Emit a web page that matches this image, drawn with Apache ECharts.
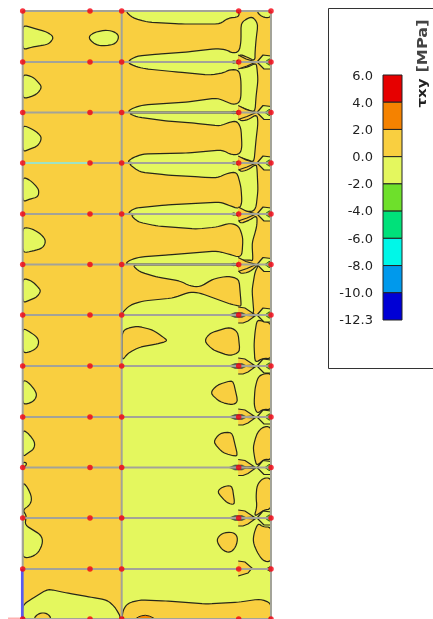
<!DOCTYPE html>
<html><head><meta charset="utf-8">
<style>html,body{margin:0;padding:0;background:#fff}#c{width:433px;height:619px}</style>
<script src="https://cdn.jsdelivr.net/npm/echarts@6/dist/echarts.min.js"></script>
</head><body><div id="c"></div>
<script>
// Model grid
const nodeX = [22.7, 90, 121.7, 238.7, 271];
const floorY = [11, 62, 112.5, 163, 214, 264.5, 315, 366, 417, 467.5, 518, 569, 619];
const wallX = [22.7, 121.7, 271];

// Legend
const legendLabels = ['6.0','4.0','2.0','0.0','-2.0','-4.0','-6.0','-8.0','-10.0','-12.3'];
const legendColors = ['#E60000','#F58200','#F9CF40','#E4F75E','#6EE02B','#00E17A','#00F7E8','#0099EC','#0000D5'];

// Contour outlines, 0..2 MPa background is the panel; these are the -2..0 MPa bands
const leftBlobs = [
 [[22.7,25],[33,28],[47,32],[54,37],[50,43],[45,45],[32,47],[22.7,50]],
 [[88,37],[95,32],[107,30],[115,32],[119,36],[117,42],[112,45],[100,46],[93,43]],
 [[22.7,74],[33,77],[38,82],[42,87],[38,93],[33,96],[22.7,99]],
 [[22.7,125],[32,129],[38,133],[42,138],[38,146],[30,149],[22.7,152]],
 [[22.7,177],[30,180],[37,187],[39,191],[38,197],[30,199],[22.7,202]],
 [[22.7,227],[33,229],[42,235],[46,241],[43,248],[33,251],[22.7,253]],
 [[22.7,278],[32,281],[38,287],[41,291],[37,297],[30,300],[22.7,303]],
 [[22.7,328],[30,332],[37,337],[39,342],[37,348],[30,352],[22.7,353]],
 [[22.7,380],[28,382],[35,390],[37,396],[33,402],[22.7,405]],
 [[22.7,430],[28,433],[35,442],[34,449],[28,453],[22.7,457]],
 [[22.7,462],[27,463],[25,467],[22.7,467.5]],
 [[22.7,482],[28,488],[32,498],[30,505],[22.7,510],[26,515],[26,518],[25,525],[33,530],[41,535],[43,542],[39,552],[32,557],[22.7,558]],
 [[22.7,605],[33,598],[48,589],[67,593],[90,597],[107,600],[115,607],[121.7,619],[22.7,619]]
];
const storyBands = [
 [[125,11],[133,18],[147,22],[180,24],[220,24],[228,18],[239,17],[239,11]],
 [[127,61.5],[137,56],[160,54],[187,52],[217,48.5],[227,50],[232,53],[239,52],[241,42],[241,23],[248,18],[253,17],[258,24],[256,40],[255,53],[255,61],[247,57],[239,54],[239,61.5]],
 [[127,62.5],[137,67],[147,69],[177,72],[210,75],[223,73],[230,69.5],[239,70],[241,80],[241,97],[239,103],[233,104.5],[227,102],[217,98],[187,102],[143,105],[133,108],[127,112],[239,112],[239,106],[248,110],[255,112],[256,97],[258,80],[257,68],[256,63],[248,67],[239,69],[239,62.5]],
 [[128,113],[137,117],[167,121],[193,123],[220,126],[230,122],[237,121],[241,128],[242,147],[240,154],[232,155],[222,150],[187,153],[143,154],[132,158],[127,162.5],[239,162.5],[239,157],[248,160],[254,162],[256,140],[258,123],[257,114],[248,120],[239,121],[239,113]],
 [[128,163.5],[140,172],[167,175],[200,177],[217,178],[228,173],[237,172],[241,187],[242,203],[239,209],[228,205],[220,202],[167,205],[135,208],[127,213.5],[239,213.5],[239,210],[252,212],[256,208],[258,190],[257,168],[256,164],[248,170],[239,172],[239,163.5]],
 [[130,214.5],[138,222],[157,226],[197,229],[217,227],[230,223],[239,226],[243,238],[242,255],[238,257],[232,255],[217,251],[167,255],[140,257],[130,260],[125,264],[239,264],[239,260],[250,260],[253,261],[252,243],[255,233],[257,225],[257,215],[250,220],[239,224],[239,214.5]],
 [[132,265],[140,272],[157,277],[180,281],[190,286],[200,287],[213,279],[228,276],[239,279],[241,302],[241,306],[239,306],[230,304],[200,293],[190,292],[173,298],[143,301],[130,305],[122,313],[122,315],[254,315],[252,290],[255,272],[258,266],[258,264.5],[250,272],[239,274],[239,265]],
 [[256,11],[262,17],[270,18],[271,13],[268,11]]
];
const lowerPanel = [[[121.7,315],[271,315],[271,619],[121.7,619]]];

// 0..2 MPa islands on the -2..0 MPa panel
const midIslands = [
 [[122,334],[125,329],[137,326],[153,330],[163,337],[168,341],[157,344],[140,347],[128,353],[122,361]],
 [[204,341],[210,333],[230,327],[238,332],[240,352],[230,356],[213,350]],
 [[210,393],[217,385],[233,380],[238,402],[232,405],[220,402]],
 [[213,442],[220,433],[232,432],[238,457],[223,453]],
 [[217,492],[222,487],[232,485],[235,505],[227,503]],
 [[216,540],[222,533],[233,532],[238,537],[236,547],[230,553],[222,550]]
];
const rightIslands = [
 [[271,323],[262,321],[257,320],[255,332],[254,345],[255,363],[263,358],[271,359]],
 [[271,373],[263,374],[258,377],[255,388],[254,405],[257,414],[263,409],[271,410]],
 [[271,426.7],[263,426.7],[257,433],[253,447],[255,460],[257,466],[264,459],[271,460]],
 [[271,478],[263,478],[257,485],[256,497],[257,507],[254,517],[264,510],[271,509]],
 [[271,527],[263,527],[258,523],[254,533],[253,542],[257,552],[263,561],[271,562]]
];
const bottomBand = [
 [[122,619],[123,610],[128,603],[140,600],[167,601],[207,604],[240,602],[260,599],[271,603],[271,619]],
 [[33,619],[39,613],[47,613],[52,619]]
];
const bottomPeak = [[[135,619],[140,616],[147,615],[156,619]]];

// Repeating stress-concentration shapes at the beam ends (offsets from each floor)
const arrowFloors = [315,366,417,467.5,518];
const wedgeFloors = [62,112.5,163,214,264.5,315,366,417,467.5,518];
const arrowTop = [[238.2,-8],[245,-7],[254,-1],[238.2,0]];
const arrowBottom = [[238.2,0],[255,1],[248,6],[243,8],[238.2,8]];
const upperRow = [[238.2,-7],[246,-3],[256,0],[238.2,0]];
const lowerRow = [[238.2,0],[256,0],[247,4],[238.2,7]];
const wedgeTop = [[257,0],[263,-7],[271,-6],[271,0]];
const wedgeBottom = [[257,0],[264,7],[271,7],[271,0]];
const tip = [[265,0],[269,-3],[271,-3],[271,3],[269,3]];
const blob = [[229,0],[235,-2.5],[242,-2.5],[247,0],[242,2.5],[235,2.5]];
const at = (shape, f) => shape.map(p => [p[0], p[1] + f]);

const ORANGE = '#F9CF40', YELLOW = '#E4F75E', GREEN = '#6EE02B', EDGE = '#26261a', DEEP = '#F58200';
const upperRows = floorY.slice(1,6);
const orangeArrows = [].concat(
  upperRows.flatMap(f => [at(upperRow,f), at(lowerRow,f)]),
  arrowFloors.flatMap(f => [at(arrowTop,f), at(arrowBottom,f)]),
  [[[238.2,561],[245,562],[252,568],[248,573],[238.2,576]]]
);
const wedges = wedgeFloors.flatMap(f => [at(wedgeTop,f), at(wedgeBottom,f)]);
const tips = wedgeFloors.map(f => at(tip,f)).concat([[[266,569],[271,566],[271,572]]]);
const blobs = arrowFloors.map(f => at(blob,f)).concat(upperRows.map(f => at([[230,0],[234,-1.5],[236,0],[234,1.5]],f)));

// Rounds the outline's corners by a bounded cut so long straight runs stay straight
function rounded(points, rounds) {
  let ring = points;
  for (let r = 0; r < rounds; r++) {
    const next = [];
    ring.forEach((a, i) => {
      const b = ring[(i + 1) % ring.length];
      const len = Math.hypot(b[0]-a[0], b[1]-a[1]) || 1;
      const t = Math.min(0.25, 2.5 / len);
      next.push([a[0]+(b[0]-a[0])*t, a[1]+(b[1]-a[1])*t]);
      next.push([b[0]-(b[0]-a[0])*t, b[1]-(b[1]-a[1])*t]);
    });
    ring = next;
  }
  return ring;
}
function layer(regions, fill, stroke, width, rounds) {
  return {
    type:'custom', xAxisIndex:0, yAxisIndex:0, silent:true, clip:false,
    data: regions.map(r => r[0]),
    renderItem(params, api) {
      const points = rounded(regions[params.dataIndex], rounds || 0).map(p => api.coord(p));
      return {type:'polygon', shape:{points}, style:{fill, stroke: stroke || null, lineWidth: width || 0, lineJoin:'round'}};
    }
  };
}
function outline(regions, stroke, width) {
  return {
    type:'custom', xAxisIndex:0, yAxisIndex:0, silent:true, clip:false,
    data: regions.map(r => r[0]),
    renderItem(params, api) {
      const points = regions[params.dataIndex].map(p => api.coord(p));
      return {type:'polyline', shape:{points}, style:{fill:null, stroke, lineWidth:width}};
    }
  };
}
function segments(list, color, width) {
  return {
    type:'custom', xAxisIndex:0, yAxisIndex:0, silent:true, clip:false,
    data: list.map(s => s[0]),
    renderItem(params, api) {
      const s = list[params.dataIndex];
      const a = api.coord(s[0]), b = api.coord(s[1]);
      return {type:'line', shape:{x1:a[0],y1:a[1],x2:b[0],y2:b[1]}, style:{stroke:color, lineWidth:width}};
    }
  };
}
const top0 = floorY[0], bottom0 = floorY[floorY.length-1];
const frame = floorY.map(y => [[nodeX[0],y],[nodeX[4],y]]).concat(wallX.map(x => [[x,top0],[x,bottom0]]));
const nodes = floorY.flatMap(y => nodeX.map(x => [x,y]));

const chart = echarts.init(document.getElementById('c'), null, {renderer:'canvas'});
chart.setOption({
  animation:false,
  backgroundColor:'#fff',
  grid:[
    {left:0, top:0, width:433, height:619},
    {left:383, top:75, width:19, height:245},
    {left:383, top:76.5, width:19, height:244}
  ],
  xAxis:[
    {type:'value', min:0, max:433, show:false, gridIndex:0},
    {type:'value', min:0, max:1, show:false, gridIndex:1},
    {type:'value', min:0, max:1, show:false, gridIndex:2}
  ],
  yAxis:[
    {type:'value', min:0, max:619, inverse:true, show:false, gridIndex:0},
    {type:'value', min:0, max:9, interval:1, inverse:true, show:false, gridIndex:1},
    {type:'value', min:0, max:9, interval:1, inverse:true, gridIndex:2,
     axisLine:{show:false}, axisTick:{show:false}, splitLine:{show:false},
     axisLabel:{show:true, margin:10, color:'#222', fontFamily:'DejaVu Sans', fontSize:13,
       formatter:(v)=>legendLabels[Math.round(v)]}}
  ],
  graphic:[
    {type:'rect', shape:{x:328.5,y:8.5,width:200,height:360}, style:{fill:'none',stroke:'#333',lineWidth:1}, z:0},
    {type:'text', x:423, y:46, rotation:Math.PI/2, scaleX:1.15, style:{text:'[MPa]',font:'bold 14px "DejaVu Sans"',fill:'#444',align:'center',verticalAlign:'middle'}},
    {type:'text', x:423, y:93, rotation:Math.PI/2, scaleX:1.25, style:{text:'τxy',font:'bold 12px "DejaVu Sans"',fill:'#222',align:'center',verticalAlign:'middle'}}
  ],
  series:[
    layer([[[nodeX[0],top0],[nodeX[4],top0],[nodeX[4],bottom0],[nodeX[0],bottom0]]], ORANGE),
    layer(lowerPanel, YELLOW),
    layer(leftBlobs, YELLOW, EDGE, 1.2, 2),
    layer(storyBands, YELLOW, EDGE, 1.2, 2),
    layer(midIslands, ORANGE, EDGE, 1.2, 2),
    layer(rightIslands, ORANGE, EDGE, 1.2, 2),
    layer(bottomBand, ORANGE, EDGE, 1.2, 2),
    layer(bottomPeak, DEEP, EDGE, 1, 1),
    layer(orangeArrows, ORANGE),
    outline(orangeArrows, EDGE, 1.2),
    layer(wedges, YELLOW, EDGE, 1.2),
    layer(tips, GREEN, '#3d5a2a', 1),
    layer(blobs, '#5a6a55', '#333', 0.5),
    segments(frame, '#a3a398', 2),
    segments([[[22.7,163],[90,163]]], '#9fe3c4', 2),
    segments([[[22.2,569],[22.2,619]]], '#5a5aee', 2.5),
    segments([[[8,618.5],[22,618.5]]], '#ffb0b0', 2),
    {type:'scatter', xAxisIndex:0, yAxisIndex:0, data:nodes, symbolSize:5.5, silent:true, clip:false,
     itemStyle:{color:'#f4000f'}},
    {type:'custom', xAxisIndex:1, yAxisIndex:1, silent:true,
     data:legendColors.map((c,i)=>[0,i]),
     renderItem(params, api){
       const i = params.dataIndex;
       const a = api.coord([0,i]), b = api.coord([1,i+1]);
       return {type:'rect', shape:{x:a[0],y:a[1],width:b[0]-a[0],height:b[1]-a[1]},
         style:{fill:legendColors[i], stroke:'#222', lineWidth:1}};
     }}
  ]
});
</script></body></html>
